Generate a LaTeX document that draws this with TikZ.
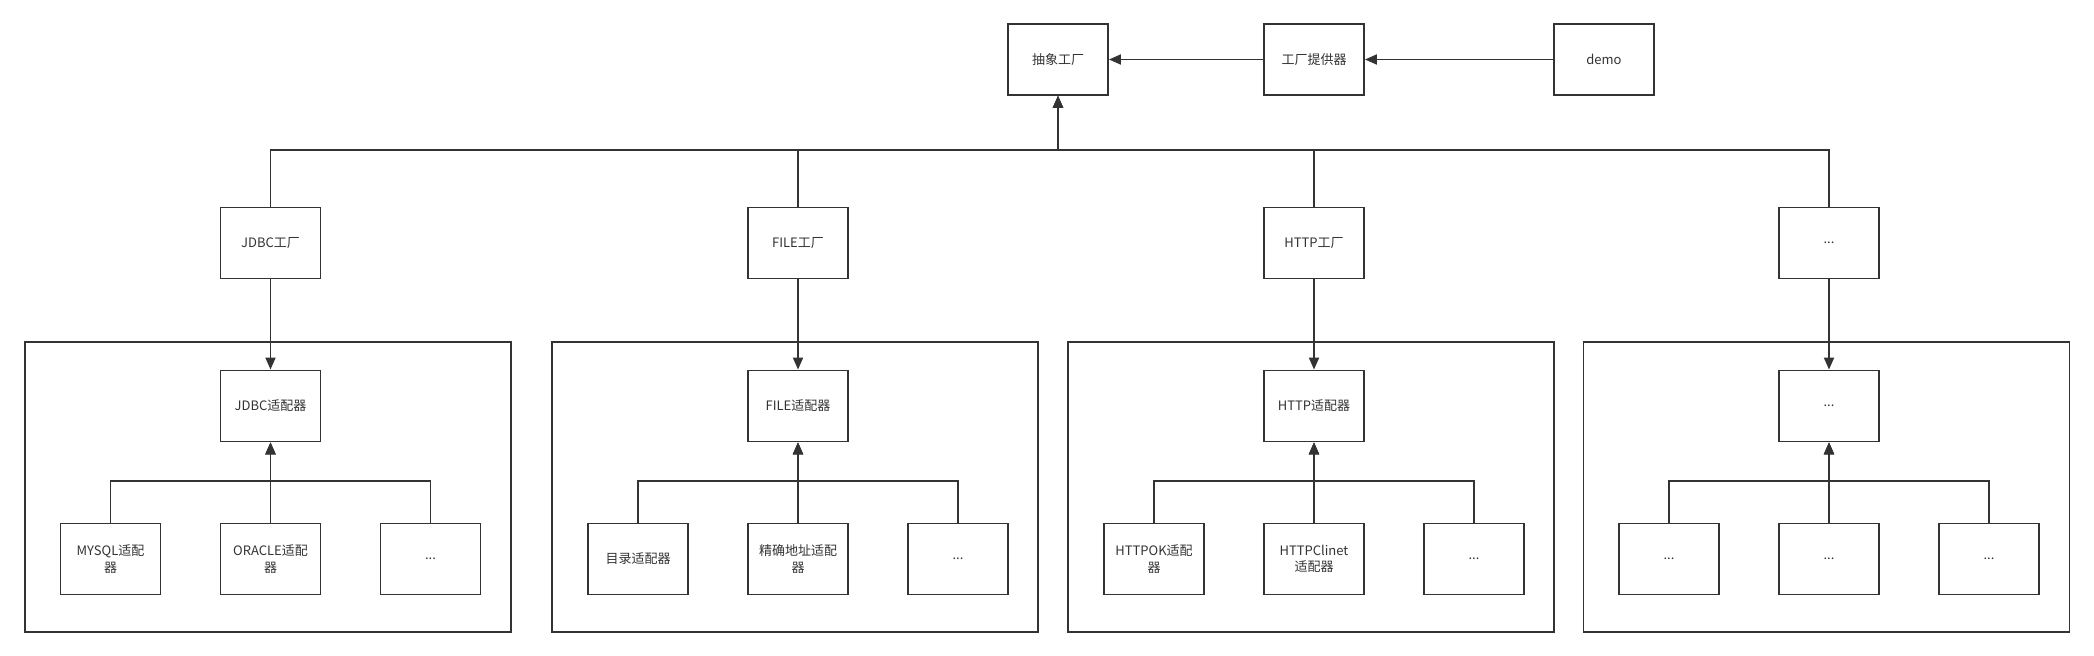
\documentclass[tikz,border=0pt]{standalone}
\usepackage{fontspec}
\newfontfamily\cjk{Noto Sans CJK SC}
\usetikzlibrary{arrows.meta}
\definecolor{ink}{HTML}{333333}
\tikzset{
  box/.style={draw=ink, line width=1.9pt, minimum width=100pt, minimum height=71pt,
    inner sep=0pt, align=center, text=ink, font=\cjk\fontsize{13}{16.5}\selectfont},
  container/.style={draw=ink, line width=1.9pt, minimum width=486pt, minimum height=290pt, inner sep=0pt},
  conn/.style={draw=ink, line width=1.9pt},
  arr/.style={conn, -{Triangle[length=12pt,width=10pt]}},
}
\begin{document}
\begin{tikzpicture}[x=1pt,y=-1pt]
\useasboundingbox (0,0) rectangle (2094,656);
% containers
\node[container] (c1) at (268,487) {};
\node[container] (c2) at (795,487) {};
\node[container] (c3) at (1311,487) {};
\node[container] (c4) at (1826.5,487) {};
% top row
\node[box] (abs) at (1058,59.5) {抽象工厂};
\node[box] (prov) at (1314,59.5) {工厂提供器};
\node[box] (demo) at (1604,59.5) {demo};
% factories
\node[box] (jf) at (270.5,243) {JDBC工厂};
\node[box] (ff) at (798,243) {FILE工厂};
\node[box] (hf) at (1314,243) {HTTP工厂};
\node[box] (of) at (1829,243) {...};
% adapters
\node[box] (ja) at (270.5,406) {JDBC适配器};
\node[box] (fa) at (798,406) {FILE适配器};
\node[box] (ha) at (1314,406) {HTTP适配器};
\node[box] (oa) at (1829,406) {...};
% leaves
\node[box] (j1) at (110.5,559) {MYSQL适配\\器};
\node[box] (j2) at (270.5,559) {ORACLE适配\\器};
\node[box] (j3) at (430.5,559) {...};
\node[box] (f1) at (638,559) {目录适配器};
\node[box] (f2) at (798,559) {精确地址适配\\器};
\node[box] (f3) at (958,559) {...};
\node[box] (h1) at (1154,559) {HTTPOK适配\\器};
\node[box] (h2) at (1314,559) {HTTPClinet\\适配器};
\node[box] (h3) at (1474,559) {...};
\node[box] (o1) at (1669,559) {...};
\node[box] (o2) at (1829,559) {...};
\node[box] (o3) at (1989,559) {...};
% top arrows
\draw[arr] (prov.west) -- (abs.east);
\draw[arr] (demo.west) -- (prov.east);
% factories to abstract factory
\foreach \f in {jf,ff,hf,of}
  \draw[arr] (\f.north) -- ++(0,-57) -| (abs.south);
% factory to adapter
\draw[arr] (jf.south) -- (ja.north);
\draw[arr] (ff.south) -- (fa.north);
\draw[arr] (hf.south) -- (ha.north);
\draw[arr] (of.south) -- (oa.north);
% leaves to adapters
\foreach \l in {j1,j2,j3} \draw[arr] (\l.north) -- ++(0,-41.5) -| (ja.south);
\foreach \l in {f1,f2,f3} \draw[arr] (\l.north) -- ++(0,-41.5) -| (fa.south);
\foreach \l in {h1,h2,h3} \draw[arr] (\l.north) -- ++(0,-41.5) -| (ha.south);
\foreach \l in {o1,o2,o3} \draw[arr] (\l.north) -- ++(0,-41.5) -| (oa.south);
\end{tikzpicture}
\end{document}
